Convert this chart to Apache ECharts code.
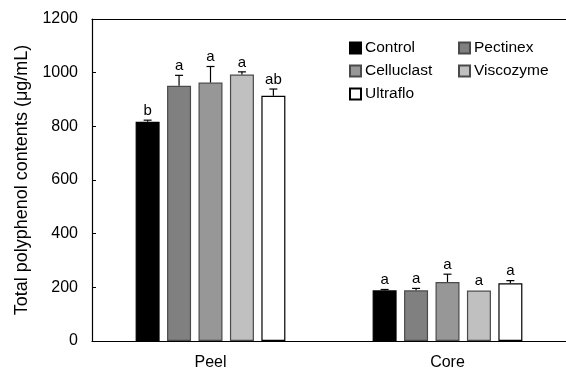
<!DOCTYPE html>
<html>
<head>
<meta charset="utf-8">
<script src="https://cdn.jsdelivr.net/npm/echarts@6/dist/echarts.min.js"></script>
<style>
html, body { margin: 0; padding: 0; background: #fff; }
#main { width: 566px; height: 371px; }
</style>
</head>
<body>
<div id="main"></div>
<script>
var categories = ['Peel', 'Core'];
var enzymes = ['Control', 'Pectinex', 'Celluclast', 'Viscozyme', 'Ultraflo'];
var colors = ['#000000', '#808080', '#979797', '#c0c0c0', '#ffffff'];

// mean values per enzyme: [Peel, Core]
var control = [817, 189];
var pectinex = [951, 189];
var celluclast = [963, 220];
var viscozyme = [993, 188];
var ultraflo = [914, 215];

// standard deviation (upper error bar)
var controlErr = [6, 3];
var pectinexErr = [39, 7];
var celluclastErr = [60, 29];
var viscozymeErr = [10, 0];
var ultrafloErr = [25, 10];

// significance letters
var controlSig = ['b', 'a'];
var pectinexSig = ['a', 'a'];
var celluclastSig = ['a', 'a'];
var viscozymeSig = ['a', 'a'];
var ultrafloSig = ['ab', 'a'];

var values = [control, pectinex, celluclast, viscozyme, ultraflo];
var errors = [controlErr, pectinexErr, celluclastErr, viscozymeErr, ultrafloErr];
var letters = [controlSig, pectinexSig, celluclastSig, viscozymeSig, ultrafloSig];

var yTicks = [0, 200, 400, 600, 800, 1000, 1200];

var FONT = 'Liberation Sans';
var BAR_W = 24;
var BAR_GAP = '31%';

var chartDom = document.getElementById('main');
var myChart = echarts.init(chartDom);
var option;

var series = [];
enzymes.forEach(function (name, i) {
    series.push({
        name: name,
        type: 'bar',
        barWidth: BAR_W,
        barGap: BAR_GAP,
        data: values[i],
        itemStyle: {
            color: colors[i],
            borderColor: i === 0 || i === 4 ? '#000' : '#4a4a4a',
            borderWidth: 1.2
        },
        z: 2
    });
});

// error bars + letters drawn over the bars
enzymes.forEach(function (name, i) {
    series.push({
        type: 'custom',
        name: name + '_err',
        data: categories.map(function (c, k) {
            return [k, values[i][k], errors[i][k]];
        }),
        z: 3,
        silent: true,
        renderItem: function (params, api) {
            var k = api.value(0);
            var layout = api.barLayout({
                barWidth: BAR_W,
                barGap: BAR_GAP,
                count: enzymes.length
            });
            var top = api.coord([k, api.value(1)]);
            var hi = api.coord([k, api.value(1) + api.value(2)]);
            var x = top[0] + layout[i].offsetCenter;
            var children = [];
            if (api.value(2) > 0) {
                children.push({
                    type: 'line',
                    shape: { x1: x, y1: top[1], x2: x, y2: hi[1] },
                    style: { stroke: '#000', lineWidth: 1.2 }
                });
                children.push({
                    type: 'line',
                    shape: { x1: x - 4, y1: hi[1], x2: x + 4, y2: hi[1] },
                    style: { stroke: '#000', lineWidth: 1.2 }
                });
            }
            children.push({
                type: 'text',
                style: {
                    text: letters[i][k],
                    x: x,
                    y: hi[1] - 2,
                    align: 'center',
                    verticalAlign: 'bottom',
                    font: '15px "' + FONT + '"',
                    fill: '#000'
                }
            });
            return { type: 'group', children: children };
        }
    });
});

var legendText = { fontSize: 15.5, lineHeight: 15, color: '#000', fontFamily: FONT, padding: [0, 0, 0, -1] };

option = {
    backgroundColor: '#fff',
    animation: false,
    textStyle: { fontFamily: FONT },
    legend: [
        {
            data: ['Control', 'Celluclast', 'Ultraflo'],
            orient: 'vertical',
            left: 344,
            top: 35,
            icon: 'rect',
            itemWidth: 11,
            itemHeight: 11,
            itemGap: 7,
            selectedMode: false,
            textStyle: legendText
        },
        {
            data: ['Pectinex', 'Viscozyme'],
            orient: 'vertical',
            left: 453,
            top: 35,
            icon: 'rect',
            itemWidth: 11,
            itemHeight: 11,
            itemGap: 7,
            selectedMode: false,
            textStyle: legendText
        }
    ],
    grid: {
        left: 92,
        right: 0,
        top: 19,
        bottom: 29,
        containLabel: false
    },
    xAxis: [
        {
            type: 'category',
            data: categories,
            axisLine: { lineStyle: { color: '#000', width: 1.2 } },
            axisTick: { show: false },
            axisLabel: { fontSize: 16, color: '#000', fontFamily: FONT, margin: 14 }
        },
        {
            type: 'category',
            position: 'top',
            data: categories,
            axisLine: { lineStyle: { color: '#000', width: 1.2 } },
            axisTick: { show: false },
            axisLabel: { show: false }
        }
    ],
    yAxis: {
        type: 'value',
        min: 0,
        max: 1200,
        interval: 200,
        name: 'Total polyphenol contents (\u03bcg/mL)',
        nameLocation: 'middle',
        nameGap: 61,
        nameTextStyle: { fontSize: 18, color: '#000', fontFamily: FONT },
        axisLine: { show: true, lineStyle: { color: '#000', width: 1.2 } },
        axisTick: { show: true, inside: true, length: 4, lineStyle: { color: '#000' } },
        splitLine: { show: false },
        axisLabel: {
            fontSize: 16,
            color: '#000',
            fontFamily: FONT,
            margin: 14,
            formatter: function (v) { return yTicks.indexOf(v) >= 0 ? String(v) : ''; }
        }
    },
    series: series
};

option && myChart.setOption(option);
</script>
</body>
</html>
